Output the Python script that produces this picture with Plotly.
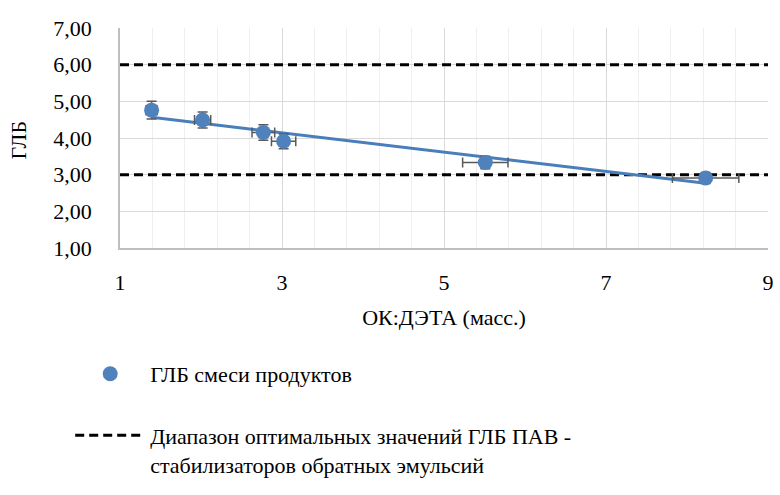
import numpy as np
import plotly.graph_objects as go

# Data
ratio = [1.39, 2.02, 2.77, 3.02, 5.51, 8.23]
hlb = [4.76, 4.49, 4.15, 3.91, 3.33, 2.91]
ratio_err = [0.07, 0.10, 0.14, 0.15, 0.28, 0.41]
hlb_err = [0.24, 0.22, 0.21, 0.20, 0.17, 0.15]
range_x = [1, 9]
range_low = [3.0, 3.0]
range_high = [6.0, 6.0]

name_points = "ГЛБ смеси продуктов"
name_range = "Диапазон оптимальных значений ГЛБ ПАВ -<br>стабилизаторов обратных эмульсий"
x_title = "ОК:ДЭТА (масс.)"
y_title = "ГЛБ"

blue = "#4F81BD"
fs = 22
FONT = "serif"

slope, intercept = np.polyfit(ratio, hlb, 1)
trend_x = [min(ratio), max(ratio)]
trend_y = [slope * v + intercept for v in trend_x]

fig = go.Figure()
fig.add_trace(go.Scatter(
    x=range_x, y=range_high, mode="lines", name=name_range,
    line=dict(color="black", width=3, dash="9px,5px"), showlegend=False,
    legendgroup="b"))
fig.add_trace(go.Scatter(
    x=range_x, y=range_low, mode="lines", name=name_range,
    line=dict(color="black", width=3, dash="9px,5px"), showlegend=True,
    legendgroup="b", legendrank=2))
fig.add_trace(go.Scatter(
    x=trend_x, y=trend_y, mode="lines", showlegend=False,
    line=dict(color="#4A7EBB", width=3)))
fig.add_trace(go.Scatter(
    x=ratio, y=hlb, mode="markers", name=name_points,
    marker=dict(color=blue, size=15),
    error_x=dict(type="data", array=ratio_err, color="#595959", thickness=1.5, width=5),
    error_y=dict(type="data", array=hlb_err, color="#595959", thickness=1.5, width=5),
    legendgroup="a", legendrank=1))

fig.update_layout(
    width=780, height=495,
    margin=dict(l=120, r=12, t=28, b=247, autoexpand=False),
    paper_bgcolor="white", plot_bgcolor="white",
    separators=", ",
    font=dict(family=FONT, size=fs, color="black"),
    showlegend=True,
    legend=dict(
        orientation="v", x=0.09, xref="container", xanchor="left",
        y=0.287, yref="container", yanchor="top",
        itemwidth=70, valign="top", tracegroupgap=30,
        traceorder="grouped", font=dict(family=FONT, size=fs, color="black"),
        bgcolor="rgba(0,0,0,0)"),
)
fig.update_xaxes(
    automargin=False,
    range=range_x, tickmode="linear", tick0=1, dtick=2, tickangle=0,
    showgrid=True, gridcolor="#D9D9D9", gridwidth=1,
    minor=dict(dtick=0.4, tick0=1, showgrid=True, gridcolor="#EFEFEF", gridwidth=1),
    showline=True, linecolor="#BFBFBF", linewidth=1.5,
    zeroline=False, ticks="", ticklabelstandoff=14,
    tickfont=dict(family=FONT, size=fs, color="black"),
    title=dict(text=x_title, font=dict(family=FONT, size=fs, color="black")),
)
fig.update_yaxes(
    automargin=False,
    range=[1, 7], tickmode="linear", tick0=1, dtick=1, tickformat=".2f",
    showgrid=True, gridcolor="#D9D9D9", gridwidth=1,
    showline=True, linecolor="#BFBFBF", linewidth=1.5,
    zeroline=False, ticks="", ticklabelstandoff=22,
    tickfont=dict(family=FONT, size=fs, color="black"),
)
fig.add_annotation(text=y_title, textangle=-90, x=-0.157, y=0.49,
                   xref="paper", yref="paper", xanchor="center", yanchor="middle",
                   showarrow=False, font=dict(family=FONT, size=fs, color="black"))

fig.write_html("out.html")
